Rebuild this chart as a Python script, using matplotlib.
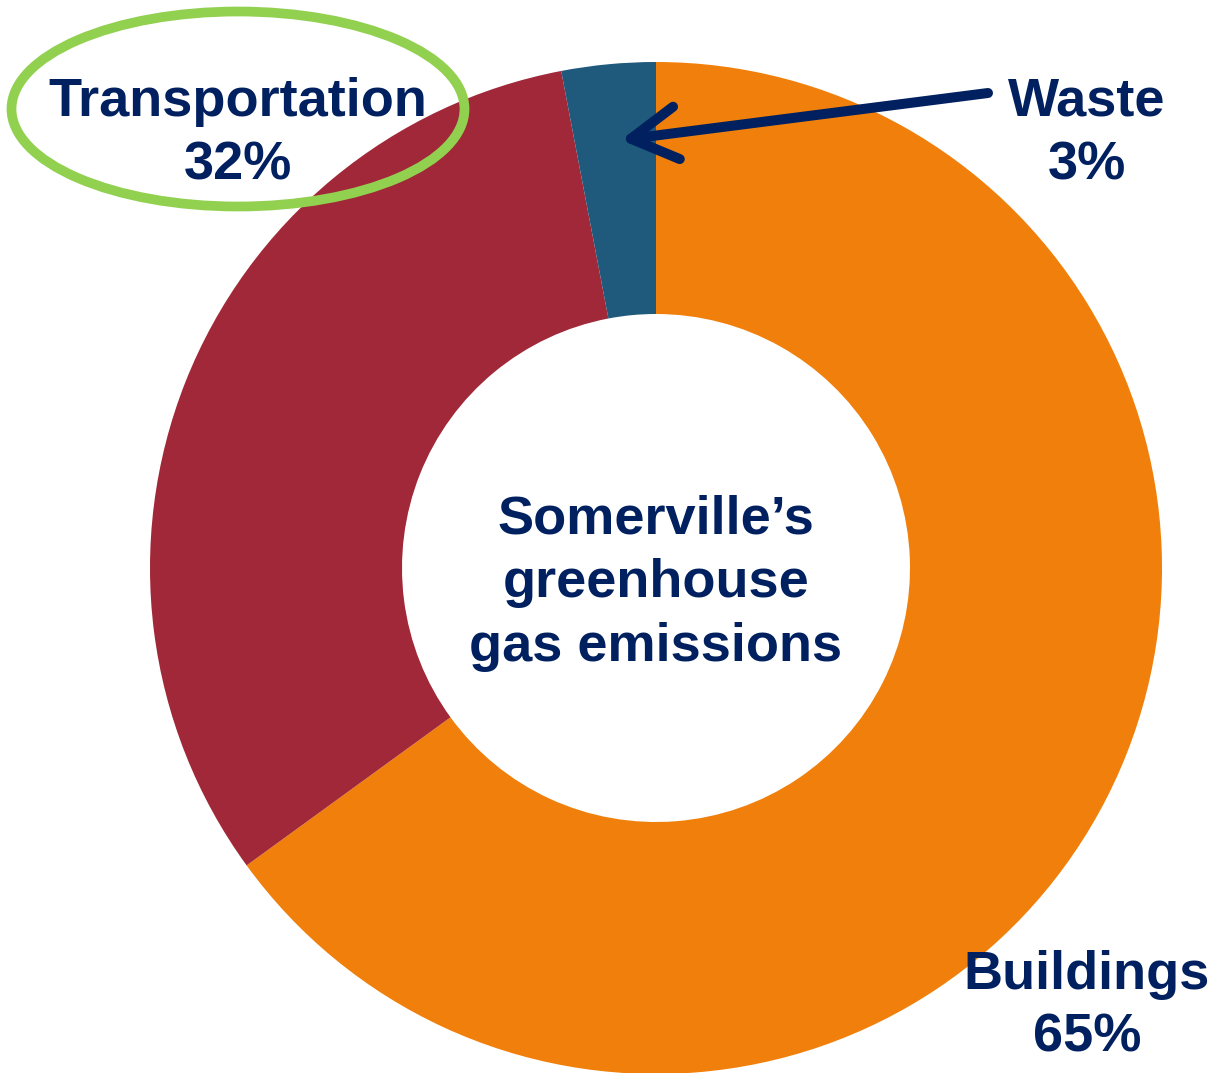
import matplotlib.pyplot as plt
from matplotlib.patches import Ellipse

# data
sectors = ["Buildings", "Transportation", "Waste"]
shares = [65, 32, 3]
colours = ["#F0800B", "#A02838", "#1F5A7C"]
centre_text = ["Somerville\u2019s", "greenhouse", "gas emissions"]

navy = "#002060"
font = "Liberation Sans"

W, H = 1213, 1073
fig = plt.figure(figsize=(W / 100, H / 100), dpi=100)
ax = fig.add_axes([0, 0, 1, 1])

cx, cy = 656, 568
r_out, r_in = 506, 254

# y axis is inverted, so math angles are mirrored: start at -90 and go ccw
ax.pie(shares, colors=colours, center=(cx, cy), radius=r_out,
       startangle=-90, counterclock=True, frame=True,
       wedgeprops=dict(width=r_out - r_in, linewidth=0))
ax.set_xlim(0, W)
ax.set_ylim(H, 0)
ax.set_aspect("equal")
ax.axis("off")

# label positions (pixel coords of first line centre)
label_pos = {"Buildings": (1087, 975), "Transportation": (238, 102), "Waste": (1087, 102)}
for name, val in zip(sectors, shares):
    x, y = label_pos[name]
    ax.text(x, y, name, ha="center", va="center", fontsize=39,
            fontweight="bold", family=font, color=navy)
    ax.text(x, y + 63, "%d%%" % val, ha="center", va="center", fontsize=39,
            fontweight="bold", family=font, color=navy)

# green highlight ring round Transportation
ax.add_patch(Ellipse((238, 109), 453, 195, fill=False, edgecolor="#92D050",
                     linewidth=7, zorder=5))

# arrow pointing at the waste slice
ax.annotate("", xy=(621, 140), xytext=(988, 93),
            arrowprops=dict(arrowstyle="->,head_length=3.3,head_width=1.9",
                            mutation_scale=10, color=navy, linewidth=7.2,
                            capstyle="round", joinstyle="round",
                            shrinkA=0, shrinkB=0), zorder=6)

for i, line in enumerate(centre_text):
    ax.text(cx, 519 + 64 * i, line, ha="center", va="center", fontsize=39,
            fontweight="bold", family=font, color=navy)

fig.savefig("out.png", dpi=100)
